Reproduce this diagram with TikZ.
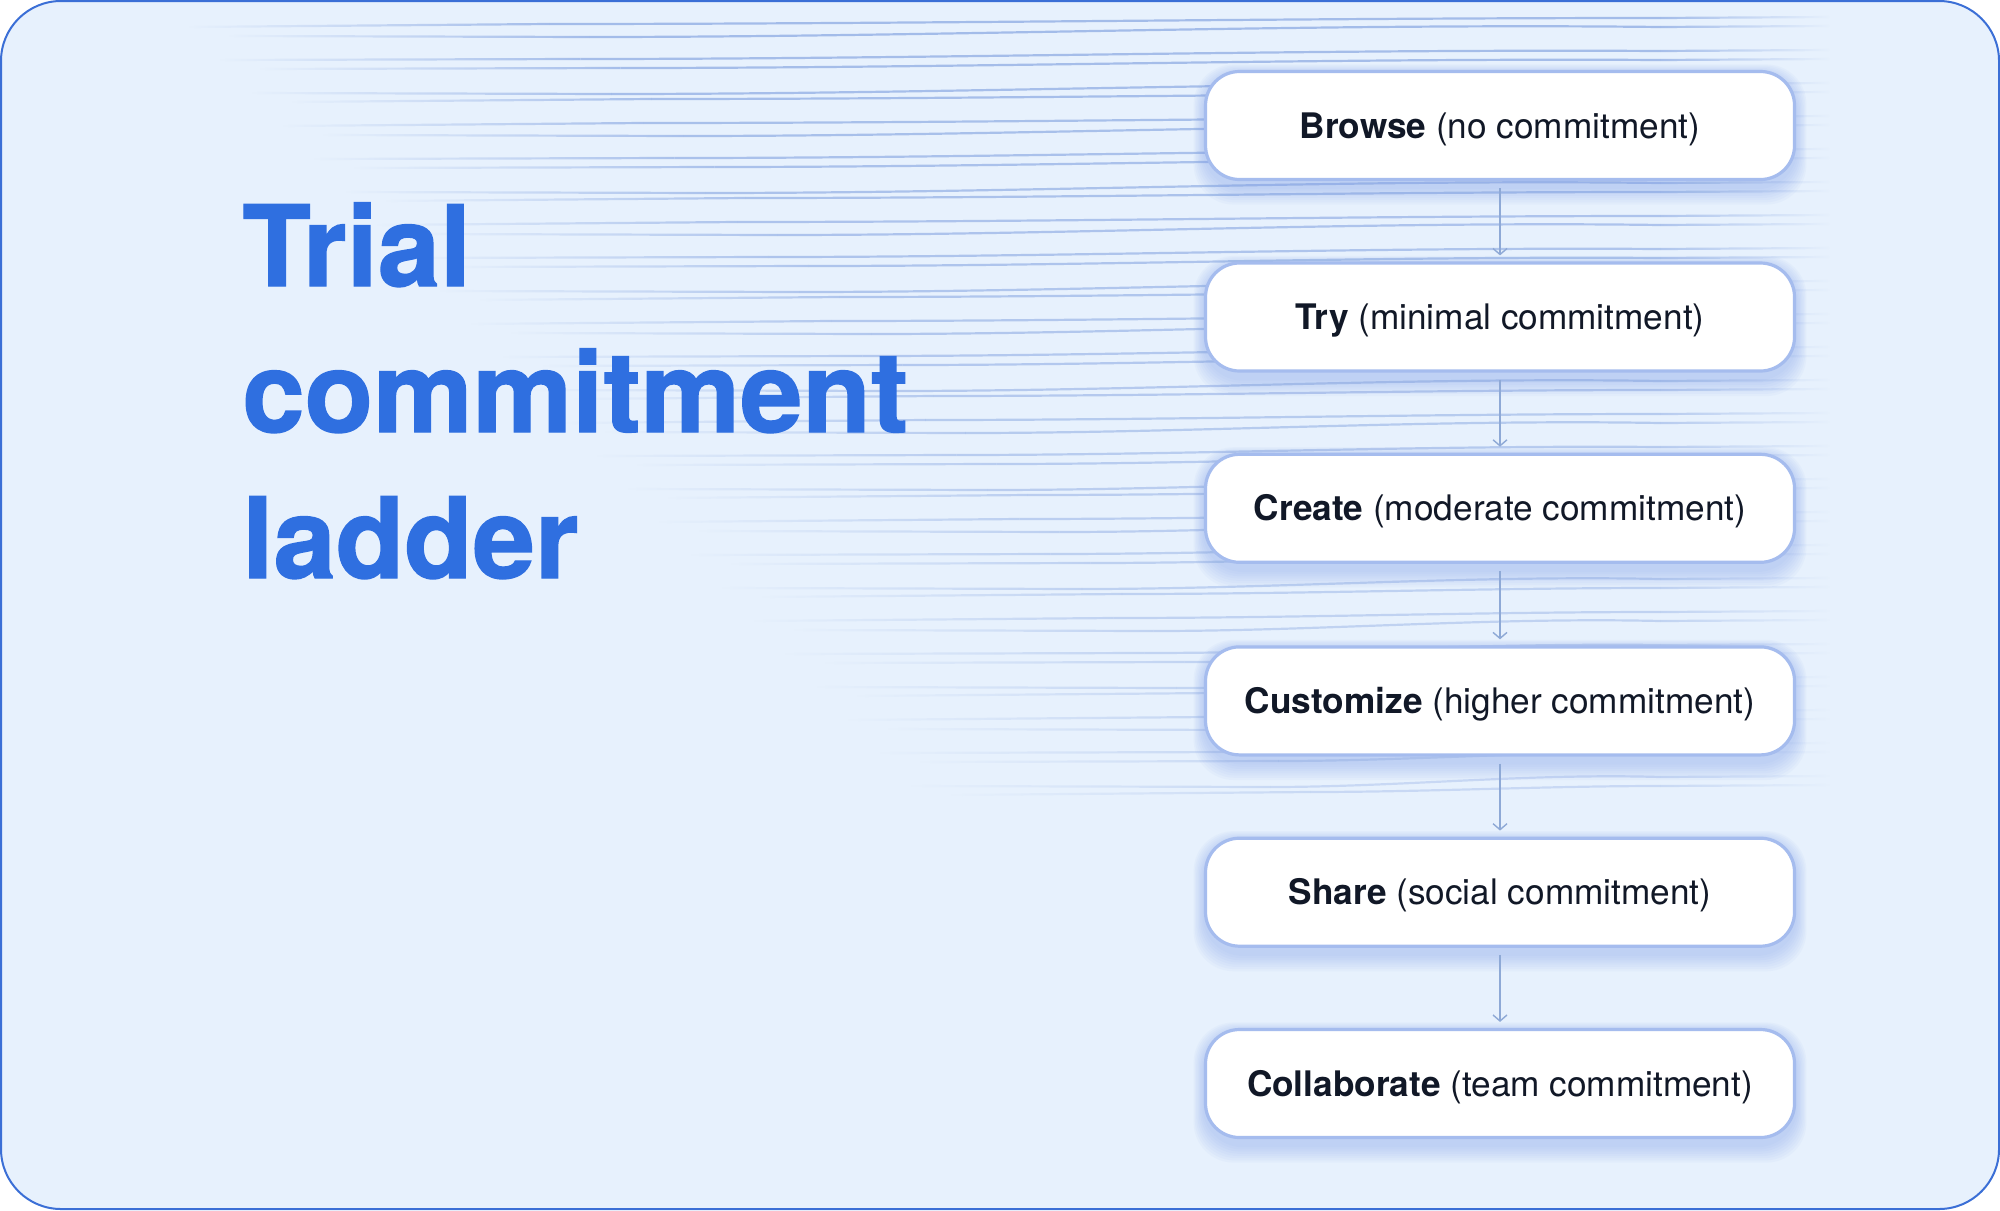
\documentclass[tikz,border=0pt]{standalone}
\usepackage{fontspec}
\setmainfont{TeX Gyre Heros}
\newfontfamily\titlefont[BoldFeatures={FakeBold=1.2}]{TeX Gyre Heros}
\usetikzlibrary{arrows.meta,fadings}
\definecolor{bgc}{HTML}{E7F1FD}
\definecolor{framec}{HTML}{3B6FD6}
\definecolor{titlec}{HTML}{2F6FE0}
\definecolor{boxborder}{HTML}{A5BCEE}
\definecolor{glowc}{HTML}{7C9DE8}
\definecolor{linec}{HTML}{98B3E6}
\definecolor{connc}{HTML}{8EA9D6}
\definecolor{txtc}{HTML}{111827}
\tikzfading[name=fadein, left color=transparent!100, right color=transparent!0]
\tikzfading[name=fadeout, left color=transparent!0, right color=transparent!100]
\tikzset{
  stepbox/.style={draw=boxborder, line width=1.6pt, fill=white, rounded corners=17pt,
    minimum width=294.5pt, minimum height=54pt, inner sep=0pt,
    text height=12.6pt, text depth=0pt,
    font=\fontsize{17.6}{20}\selectfont, text=txtc},
  conn/.style={draw=connc, line width=0.7pt, -{Straight Barb[length=3pt,width=7pt]}},
  bgline/.style={draw=linec, line width=1.1pt},
  titletext/.style={font=\titlefont\bfseries\fontsize{56}{60}\selectfont, text=titlec, inner sep=0pt, anchor=base west},
  glowlayer/.style={fill=glowc, opacity=0.05, rounded corners=20pt}
}
\begin{document}
\begin{tikzpicture}[x=0.5pt,y=-0.5pt]
\useasboundingbox (0,0) rectangle (2000,1210);
\draw[fill=bgc, draw=framec, line width=1pt, rounded corners=30pt] (1,1) rectangle (1999,1209);
% background lines
\foreach \k in {0,...,23}{
  \pgfmathsetmacro\yy{20+33*\k}
  \pgfmathsetmacro\xs{170+0.95*\yy}
  \pgfmathsetmacro\xb{\xs+360}
  \pgfmathsetmacro\wa{mod(\k,3)*2-2}
  \pgfmathsetmacro\op{0.85-0.02*\k}
  \begin{scope}[draw opacity=\op]
  \draw[bgline, path fading=fadein] (\xs,\yy+7) -- (\xb,\yy+6+\wa);
  \draw[bgline] (\xb,\yy+6+\wa) .. controls ({\xb+(1660-\xb)/3},\yy+6+\wa) and ({\xb+2*(1660-\xb)/3},\yy-4-\wa) .. (1660,\yy-2);
  \draw[bgline, path fading=fadeout] (1660,\yy-2) -- (1830,\yy-3);
  \draw[bgline, path fading=fadein] (\xs+40,\yy+16) -- (\xb+40,\yy+15-\wa);
  \draw[bgline] (\xb+40,\yy+15-\wa) .. controls ({\xb+40+(1620-\xb)/3},\yy+15-\wa) and ({\xb+40+2*(1620-\xb)/3},\yy+5+\wa) .. (1660,\yy+7);
  \draw[bgline, path fading=fadeout] (1660,\yy+7) -- (1830,\yy+6);
  \end{scope}
}
% glows
\foreach \yc in {125.5,317,508.3,700.9,892.2,1083.5}{
  \foreach \r in {1,...,8}{
    \fill[glowlayer] (1500-296-\r*1.3,\yc-55.5+4-\r*1.2) rectangle (1500+296+\r*1.3,\yc+55.5+6+\r*2.2);
  }
}
% title
\node[titletext] (t1) at (242,286) {Trial};
\node[titletext] (t2) at (242,432) {commitment};
\node[titletext] (t3) at (242,578) {ladder};
% steps
\node[stepbox] (b1) at (1500,125.5) {\textbf{Browse} (no commitment)};
\node[stepbox] (b2) at (1500,317) {\textbf{Try} (minimal commitment)};
\node[stepbox] (b3) at (1500,508.3) {\textbf{Create} (moderate commitment)};
\node[stepbox] (b4) at (1500,700.9) {\textbf{Customize} (higher commitment)};
\node[stepbox] (b5) at (1500,892.2) {\textbf{Share} (social commitment)};
\node[stepbox] (b6) at (1500,1083.5) {\textbf{Collaborate} (team commitment)};
\draw[conn] ([yshift=-3.5pt]b1.south) -- ([yshift=3pt]b2.north);
\draw[conn] ([yshift=-3.5pt]b2.south) -- ([yshift=3pt]b3.north);
\draw[conn] ([yshift=-3.5pt]b3.south) -- ([yshift=3pt]b4.north);
\draw[conn] ([yshift=-3.5pt]b4.south) -- ([yshift=3pt]b5.north);
\draw[conn] ([yshift=-3.5pt]b5.south) -- ([yshift=3pt]b6.north);
\end{tikzpicture}
\end{document}
